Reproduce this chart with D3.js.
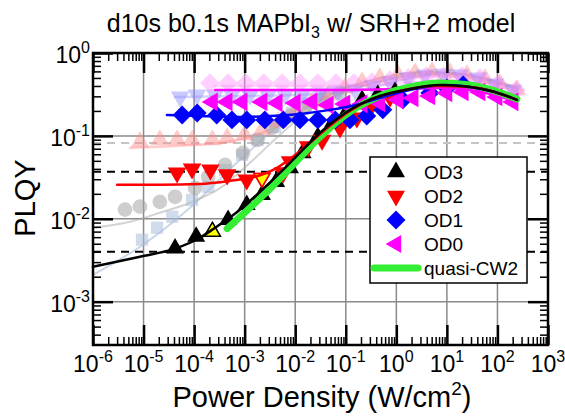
<!DOCTYPE html>
<html>
<head>
<meta charset="utf-8">
<script src="https://cdn.jsdelivr.net/npm/d3@7"></script>
<style>
body { margin: 0; background: #fff; }
text { font-family: "Liberation Sans", Arial, sans-serif; }
</style>
</head>
<body>
<svg id="chart" width="565" height="417"></svg>
<script>
// --- data: [power density W/cm2, PLQY] ---
var od3 = [[4.2e-5, 0.0044], [1.1e-4, 0.0061], [2.3e-4, 0.0070], [4.7e-4, 0.0097], [1.1e-3, 0.0147],
  [2.2e-3, 0.0195], [4.2e-3, 0.028], [7.9e-3, 0.041], [0.014, 0.062], [0.028, 0.097], [0.056, 0.147],
  [0.11, 0.206], [0.21, 0.272], [0.43, 0.312], [0.94, 0.34]];
var od2 = [[4.6e-5, 0.0358], [9.1e-5, 0.040], [2.1e-4, 0.039], [4.5e-4, 0.034], [1.1e-3, 0.0295],
  [2.2e-3, 0.031], [5.8e-3, 0.036], [7.9e-3, 0.049], [0.018, 0.074], [0.034, 0.089], [0.077, 0.125],
  [0.166, 0.165], [0.33, 0.236], [0.75, 0.295]];
var od1 = [[5.8e-5, 0.179], [1.15e-4, 0.189], [2.8e-4, 0.179], [5.6e-4, 0.156], [1.1e-3, 0.156],
  [2.5e-3, 0.156], [5.8e-3, 0.156], [0.0124, 0.156], [0.028, 0.156], [0.062, 0.156], [0.121, 0.156],
  [0.26, 0.174], [0.54, 0.206], [1.35, 0.272], [4.6, 0.330], [10, 0.379], [21, 0.411]];
var od0 = [[2.3e-4, 0.257], [4.5e-4, 0.257], [8.9e-4, 0.257], [2.2e-3, 0.257], [4.4e-3, 0.250],
  [0.010, 0.250], [0.0214, 0.257], [0.0447, 0.236], [0.096, 0.243], [0.21, 0.243], [0.47, 0.250],
  [1.08, 0.272], [2.14, 0.287], [4.6, 0.303], [10, 0.330], [21, 0.339], [45, 0.339], [98, 0.295], [203, 0.257]];
// highlighted points (yellow)
var markUp = [[2.3e-4, 0.0070]];
var markDown = [[2.2e-3, 0.031]];

// model curves
var fitOd3 = [[1e-6, 0.00264], [8.5e-6, 0.00349], [4.2e-5, 0.00436], [1.3e-4, 0.0059], [2.6e-4, 0.0078],
  [6.4e-4, 0.0115], [2.0e-3, 0.0211], [7.9e-3, 0.0473], [0.031, 0.109], [0.121, 0.206], [0.474, 0.303],
  [1.87, 0.368], [7.3, 0.411], [28.6, 0.389], [89, 0.339], [243, 0.272]];
var fitOd2 = [[3.0e-6, 0.0257], [2.1e-5, 0.0257], [1.3e-4, 0.0263], [5.1e-4, 0.0287], [1.6e-3, 0.0321],
  [4.0e-3, 0.040], [7.9e-3, 0.0529], [0.0196, 0.0824], [0.0488, 0.132], [0.121, 0.2], [0.30, 0.272],
  [1.18, 0.349], [5.8, 0.4], [28.6, 0.389], [89, 0.339], [243, 0.272]];
var fitOd1 = [[2.9e-5, 0.179], [1.3e-4, 0.174], [8.1e-4, 0.169], [3.2e-3, 0.174], [0.0124, 0.184],
  [0.0488, 0.206], [0.19, 0.243], [0.75, 0.312], [2.95, 0.379], [9.2, 0.411], [28.6, 0.389], [89, 0.339], [243, 0.272]];
var fitOd0 = [[2.6e-4, 0.358], [2.0e-3, 0.358], [0.0124, 0.358], [0.121, 0.358], [1.18, 0.368],
  [7.3, 0.379], [28.6, 0.358], [89, 0.312], [243, 0.257]];
var quasiCW2 = [[4.5e-4, 0.0076], [1.27e-3, 0.0136], [3.17e-3, 0.023], [7.9e-3, 0.041], [0.031, 0.097],
  [0.121, 0.195], [0.474, 0.303], [1.87, 0.389], [7.3, 0.435], [28.6, 0.411], [89, 0.349], [243, 0.279]];

// faded background runs
var bgDiamond = [[2.05e-4, 0.435], [4.7e-4, 0.435], [1.06e-3, 0.435], [2.4e-3, 0.435], [5.5e-3, 0.435],
  [0.0124, 0.435], [0.028, 0.435], [0.064, 0.435], [0.145, 0.435], [0.33, 0.447], [0.75, 0.473],
  [1.7, 0.5], [3.9, 0.528], [8.7, 0.528], [19.9, 0.528], [45, 0.5], [102, 0.423], [232, 0.358]];
var bgDiamondFit = [[2.6e-4, 0.4], [0.0124, 0.4], [0.474, 0.411], [2.95, 0.447], [18, 0.473], [71, 0.423], [243, 0.339]];
var bgDown = [[5.3e-5, 0.295], [1.14e-4, 0.312], [2.6e-4, 0.312], [5.6e-4, 0.312], [1.27e-3, 0.312],
  [2.9e-3, 0.312], [6.3e-3, 0.312], [0.0141, 0.321], [0.031, 0.330], [0.070, 0.339], [0.152, 0.358],
  [0.345, 0.4], [0.75, 0.447], [1.7, 0.5], [3.7, 0.543], [8.4, 0.558], [18, 0.543], [41, 0.5], [89, 0.423], [203, 0.358]];
var bgDownFit = [[4.2e-5, 0.295], [1.27e-3, 0.303], [0.031, 0.321], [0.19, 0.358], [0.75, 0.435],
  [2.95, 0.528], [9.2, 0.574], [28.6, 0.543], [89, 0.447], [243, 0.358]];
var bgUp = [[8.5e-6, 0.0847], [2.1e-5, 0.0895], [4.6e-5, 0.0895], [9.1e-5, 0.0895], [2.3e-4, 0.0895],
  [4.5e-4, 0.0946], [1.0e-3, 0.103], [2.2e-3, 0.118], [4.6e-3, 0.147], [0.010, 0.195], [0.0214, 0.257],
  [0.0447, 0.312], [0.096, 0.379], [0.21, 0.447], [0.47, 0.5], [1.08, 0.543], [2.34, 0.574], [5.1, 0.59],
  [11.5, 0.574], [25, 0.543], [57, 0.486], [112, 0.423], [243, 0.358]];
var bgUpFit = [[5.4e-6, 0.0716], [5.3e-5, 0.0758], [3.3e-4, 0.0824], [1.27e-3, 0.097], [5.0e-3, 0.136],
  [0.0196, 0.224], [0.077, 0.349], [0.30, 0.458], [1.18, 0.543], [4.6, 0.59], [18, 0.558], [71, 0.473], [243, 0.379]];
var bgCircle = [[4.3e-6, 0.0129], [8.5e-6, 0.014], [2.1e-5, 0.016], [4.2e-5, 0.0184], [1.04e-4, 0.0236],
  [1.9e-4, 0.0321], [4.1e-4, 0.0447], [9.3e-4, 0.0624], [1.8e-3, 0.0895], [3.5e-3, 0.125],
  [7.9e-3, 0.174], [0.0156, 0.217], [0.034, 0.272], [0.077, 0.330]];
var bgCircleFit = [[1e-6, 0.0078], [5.4e-6, 0.0092], [2.1e-5, 0.0118], [8.3e-5, 0.0156], [3.3e-4, 0.0236],
  [1.27e-3, 0.0473], [5.0e-3, 0.103], [0.0196, 0.206], [0.077, 0.321], [0.30, 0.423], [1.18, 0.514],
  [4.6, 0.558], [18, 0.528], [71, 0.447], [243, 0.379]];
var bgSquare = [[9.3e-6, 0.0056], [1.85e-5, 0.0078], [3.7e-5, 0.0106], [9.1e-5, 0.0169], [1.9e-4, 0.0243],
  [4.1e-4, 0.0389], [8.9e-4, 0.059], [1.8e-3, 0.0895], [4.0e-3, 0.128], [8.6e-3, 0.189], [0.018, 0.25], [0.039, 0.312]];
var bgSquareFit = [[1e-6, 0.00211], [8.5e-6, 0.0046], [8.3e-5, 0.0136], [8.1e-4, 0.0514], [5.0e-3, 0.136],
  [0.0196, 0.236], [0.077, 0.358], [0.474, 0.5], [2.95, 0.59], [18, 0.558], [71, 0.473], [243, 0.389]];

// reference levels
var refBlack = [0.037, 0.004];
var refGray = [0.082];

// ticks
var xMajor = [1e-6, 1e-5, 1e-4, 1e-3, 1e-2, 1e-1, 1e0, 1e1, 1e2, 1e3];
var xTickExp = ["-6", "-5", "-4", "-3", "-2", "-1", "0", "1", "2", "3"];
var yMajor = [1e0, 1e-1, 1e-2, 1e-3];
var yTickExp = ["0", "-1", "-2", "-3"];
var legendNames = ["OD3", "OD2", "OD1", "OD0", "quasi-CW2"];

var svg = d3.select("#chart");
var x = d3.scaleLog().domain([1e-6, 1e3]).range([93, 548]);
var y = d3.scaleLog().domain([3e-4, 1]).range([345, 53]);

function minors(lo, hi) {
  var out = [];
  for (var e = lo; e < hi; e++)
    for (var k = 2; k < 10; k++) out.push(k * Math.pow(10, e));
  return out;
}
var xMinor = minors(-6, 3);
var yMinor = minors(-4, 0).filter(v => v > 3.1e-4 && v < 1);

// grid
svg.append("g").selectAll("line").data(xMajor.slice(1, -1)).enter().append("line")
  .attr("x1", d => x(d)).attr("x2", d => x(d)).attr("y1", 53).attr("y2", 345)
  .attr("stroke", "#8a8a8a").attr("stroke-width", 1.5);
svg.append("g").selectAll("line").data(yMajor.slice(1)).enter().append("line")
  .attr("y1", d => y(d)).attr("y2", d => y(d)).attr("x1", 93).attr("x2", 548)
  .attr("stroke", "#8a8a8a").attr("stroke-width", 1.5);

svg.append("g").selectAll("line").data(refGray).enter().append("line")
  .attr("y1", d => y(d)).attr("y2", d => y(d)).attr("x1", 93).attr("x2", 548)
  .attr("stroke", "#c4c4c4").attr("stroke-width", 2).attr("stroke-dasharray", "8,6");
svg.append("g").selectAll("line").data(refBlack).enter().append("line")
  .attr("y1", d => y(d)).attr("y2", d => y(d)).attr("x1", 93).attr("x2", 548)
  .attr("stroke", "#000").attr("stroke-width", 2).attr("stroke-dasharray", "8,6");

var line = d3.line().x(d => x(d[0])).y(d => y(d[1])).curve(d3.curveMonotoneX);

function symbols(data, type, size, rot, fill, stroke, op) {
  var path = d3.symbol().type(type).size(size)();
  svg.append("g").selectAll("path").data(data).enter().append("path")
    .attr("d", path)
    .attr("transform", d => "translate(" + x(d[0]) + "," + y(d[1]) + ") rotate(" + rot + ")")
    .attr("fill", fill).attr("fill-opacity", op)
    .attr("stroke", stroke || "none").attr("stroke-width", 1.5);
}
function curve(data, color, w, op) {
  svg.append("path").datum(data).attr("d", line)
    .attr("fill", "none").attr("stroke", color).attr("stroke-width", w)
    .attr("stroke-opacity", op).attr("stroke-linecap", "round");
}

// faded background
curve(bgSquareFit, "#9db4d6", 2, 0.55);
curve(bgCircleFit, "#a8a8a8", 2, 0.5);
curve(bgUpFit, "#ff9090", 2.5, 0.45);
curve(bgDownFit, "#9090ff", 2.5, 0.4);
curve(bgDiamondFit, "#ff90ff", 2.5, 0.4);
symbols(bgSquare, d3.symbolSquare, 150, 0, "#a9bedb", null, 0.55);
symbols(bgCircle, d3.symbolCircle, 170, 0, "#a6a6a6", null, 0.55);
symbols(bgUp, d3.symbolTriangle, 150, 0, "#ff8a8a", null, 0.45);
symbols(bgDown, d3.symbolTriangle, 150, 180, "#8a8aff", null, 0.45);
symbols(bgDiamond, d3.symbolSquare, 190, 45, "#ff8aff", null, 0.4);

// measured points
symbols(od3, d3.symbolTriangle, 140, 0, "#000", null, 1);
symbols(od2, d3.symbolTriangle, 150, 180, "#ff0000", null, 1);
symbols(od1, d3.symbolSquare, 180, 45, "#0000ff", null, 1);
symbols(od0, d3.symbolTriangle, 150, -90, "#ff00ff", null, 1);
symbols(markUp, d3.symbolTriangle, 110, 0, "#ffff00", "#000", 1);
symbols(markDown, d3.symbolTriangle, 110, 180, "#ffff00", "#ff0000", 1);

// model curves
curve(fitOd0, "#ff00ff", 2.5, 1);
curve(quasiCW2, "#33ee33", 7, 1);
curve(fitOd1, "#0000ff", 2.5, 1);
curve(fitOd2, "#ff0000", 2.5, 1);
curve(fitOd3, "#000", 2.5, 1);

// axes: inward ticks on all sides
function ticks(gen, tx, ty, vals, size, w) {
  var g = svg.append("g").attr("transform", "translate(" + tx + "," + ty + ")")
    .call(gen.tickValues(vals).tickSize(size).tickFormat(""));
  g.select(".domain").remove();
  g.selectAll(".tick line").attr("stroke", "#000").attr("stroke-width", w);
}
ticks(d3.axisBottom(x), 0, 345, xMajor, -20, 2.5);
ticks(d3.axisBottom(x), 0, 345, xMinor, -8, 1.5);
ticks(d3.axisTop(x), 0, 53, xMajor, -20, 2.5);
ticks(d3.axisTop(x), 0, 53, xMinor, -8, 1.5);
ticks(d3.axisLeft(y), 93, 0, yMajor, -20, 2.5);
ticks(d3.axisLeft(y), 93, 0, yMinor, -8, 1.5);
ticks(d3.axisRight(y), 548, 0, yMajor, -20, 2.5);
ticks(d3.axisRight(y), 548, 0, yMinor, -8, 1.5);

svg.append("rect").attr("x", 93).attr("y", 53).attr("width", 455).attr("height", 292)
  .attr("fill", "none").attr("stroke", "#000").attr("stroke-width", 2.5);

// tick labels with superscripts
var xl = svg.append("g").selectAll("text").data(xMajor).enter().append("text")
  .attr("x", d => x(d)).attr("y", 372).attr("text-anchor", "middle").attr("font-size", 23);
xl.append("tspan").text("10");
xl.append("tspan").attr("font-size", 16).attr("dy", -10).text((d, i) => xTickExp[i]);

var yl = svg.append("g").selectAll("text").data(yMajor).enter().append("text")
  .attr("x", 90).attr("y", d => y(d) + 10).attr("text-anchor", "end").attr("font-size", 23);
yl.append("tspan").text("10");
yl.append("tspan").attr("font-size", 16).attr("dy", -10).text((d, i) => yTickExp[i]);

// titles
var t = svg.append("text").attr("x", 311).attr("y", 32).attr("text-anchor", "middle").attr("font-size", 25);
t.append("tspan").text("d10s b0.1s MAPbI");
t.append("tspan").attr("font-size", 16).attr("dy", 6).text("3");
t.append("tspan").attr("dy", -6).text(" w/ SRH+2 model");

var xt = svg.append("text").attr("x", 322).attr("y", 407).attr("text-anchor", "middle").attr("font-size", 29);
xt.append("tspan").text("Power Density (W/cm");
xt.append("tspan").attr("font-size", 19).attr("dy", -12).text("2");
xt.append("tspan").attr("dy", 12).text(")");

svg.append("text").attr("transform", "translate(35,198) rotate(-90)")
  .attr("text-anchor", "middle").attr("font-size", 29).text("PLQY");

// legend
var lg = svg.append("g");
lg.append("rect").attr("x", 370).attr("y", 157).attr("width", 157).attr("height", 126)
  .attr("fill", "#fff").attr("stroke", "#000").attr("stroke-width", 1.5);
var rowY = d3.scalePoint().domain(legendNames).range([172, 268]);
var legSym = [[d3.symbolTriangle, 0, "#000"], [d3.symbolTriangle, 180, "#ff0000"],
  [d3.symbolSquare, 45, "#0000ff"], [d3.symbolTriangle, -90, "#ff00ff"]];
legSym.forEach(function (s, i) {
  lg.append("path").attr("d", d3.symbol().type(s[0]).size(i == 2 ? 180 : 140)())
    .attr("transform", "translate(396," + rowY(legendNames[i]) + ") rotate(" + s[1] + ")")
    .attr("fill", s[2]);
});
lg.append("line").attr("x1", 374).attr("x2", 418)
  .attr("y1", rowY(legendNames[4])).attr("y2", rowY(legendNames[4]))
  .attr("stroke", "#33ee33").attr("stroke-width", 7).attr("stroke-linecap", "round");
lg.selectAll("text.lab").data(legendNames).enter().append("text")
  .attr("x", 424).attr("y", d => rowY(d) + 7)
  .attr("font-size", 19).text(d => d);
</script>
</body>
</html>
